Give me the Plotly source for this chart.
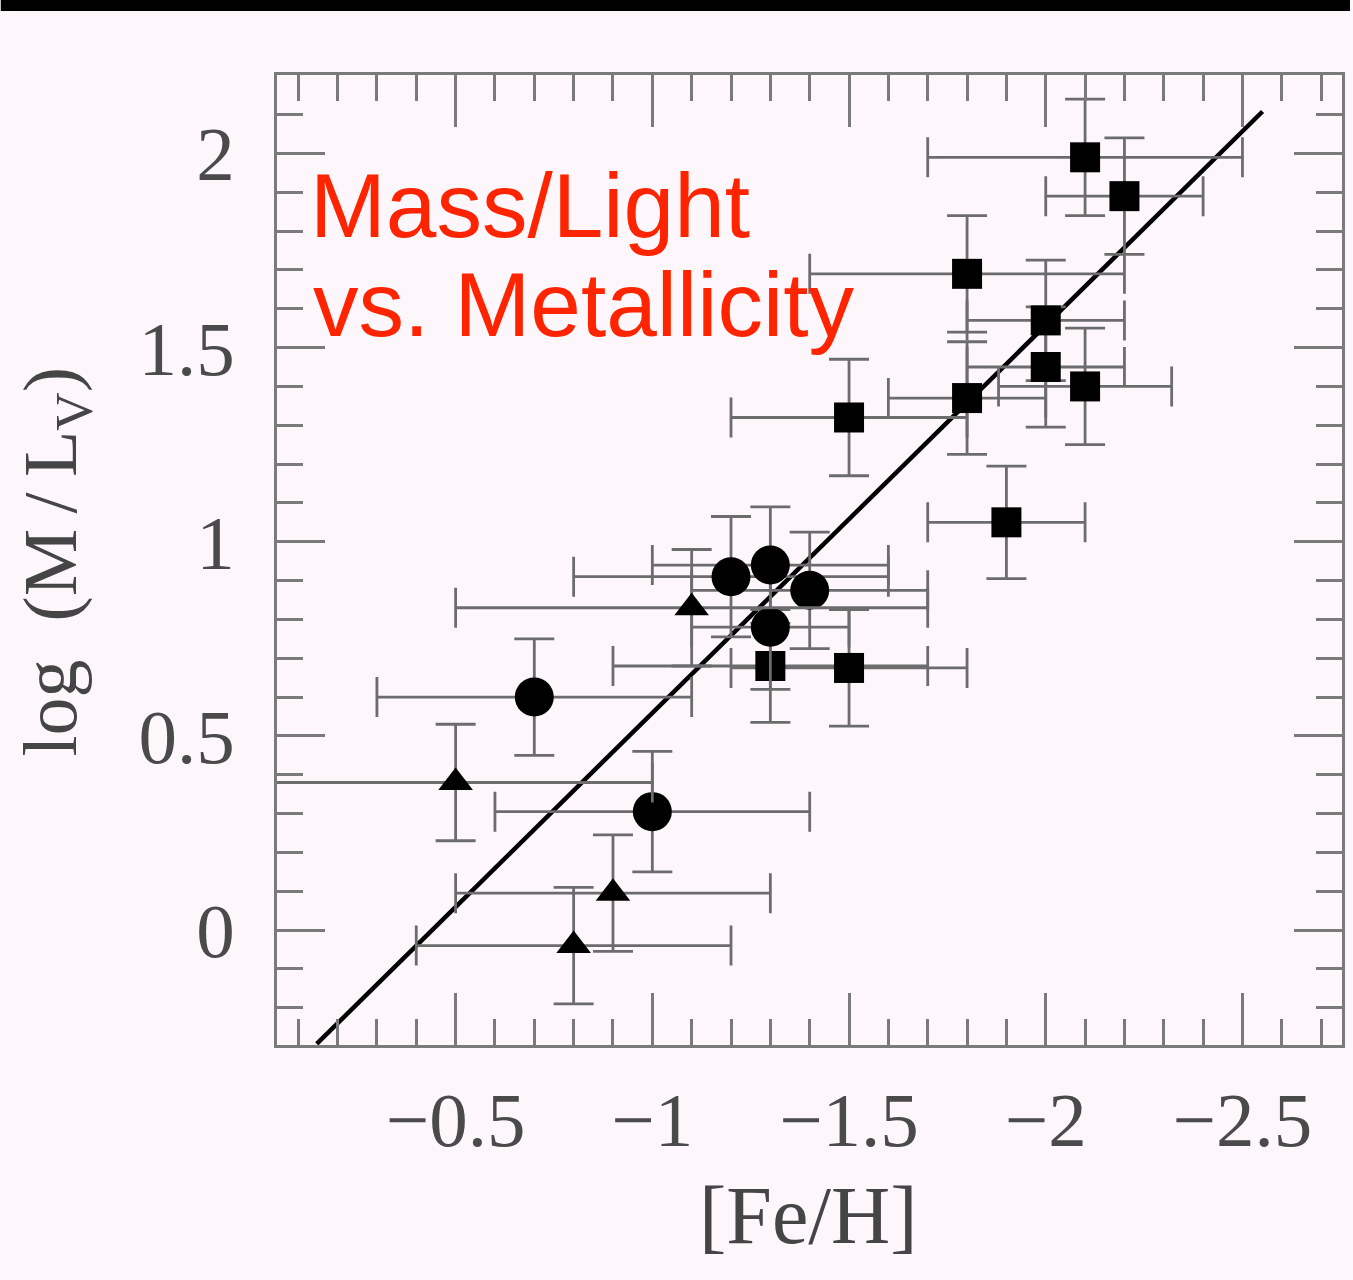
import plotly.graph_objects as go

# ---- data ----
sq_x = [-2.10, -2.20, -1.80, -2.00, -2.00, -2.10, -1.80, -1.50, -1.90, -1.30, -1.50]
sq_y = [1.99, 1.89, 1.69, 1.57, 1.45, 1.40, 1.37, 1.32, 1.05, 0.68, 0.675]
sq_xerr = [0.40, 0.20, 0.40, 0.20, 0.20, 0.22, 0.20, 0.30, 0.20, 0.40, 0.30]
sq_yerr = [0.15, 0.15, 0.15, 0.155, 0.155, 0.15, 0.145, 0.15, 0.145, 0.145, 0.15]

circ_x = [-1.20, -1.30, -1.40, -1.30, -0.70, -1.00]
circ_y = [0.91, 0.94, 0.875, 0.78, 0.60, 0.305]
circ_xerr = [0.40, 0.30, 0.30, 0.20, 0.40, 0.40]
circ_yerr = [0.155, 0.15, 0.15, 0.16, 0.15, 0.155]

tri_x = [-1.10, -0.50, -0.90, -0.80]
tri_y = [0.83, 0.38, 0.095, -0.04]
tri_xerr = [0.60, 0.50, 0.40, 0.40]
tri_yerr = [0.15, 0.15, 0.15, 0.15]

fit_x = [-0.147, -2.551]
fit_y = [-0.293, 2.108]

x_tickvals = [-0.5, -1.0, -1.5, -2.0, -2.5]
x_ticktext = ["\u22120.5", "\u22121", "\u22121.5", "\u22122", "\u22122.5"]
y_tickvals = [0, 0.5, 1.0, 1.5, 2.0]
y_ticktext = ["0", "0.5", "1", "1.5", "2"]

# ---- styles ----
BG = "#fdf7fc"
ERR = "#6c6c6c"
AXC = "#7a7a7a"


def err(arr):
    return dict(type="data", array=arr, visible=True, color=ERR, thickness=2.8, width=20)


fig = go.Figure()
fig.add_trace(go.Scatter(x=fit_x, y=fit_y, mode="lines",
                         line=dict(color="black", width=4.5), showlegend=False, hoverinfo="skip"))
fig.add_trace(go.Scatter(x=sq_x, y=sq_y, mode="markers",
                         marker=dict(symbol="square", size=30, color="black"),
                         error_x=err(sq_xerr), error_y=err(sq_yerr), showlegend=False))
fig.add_trace(go.Scatter(x=circ_x, y=circ_y, mode="markers",
                         marker=dict(symbol="circle", size=39, color="black"),
                         error_x=err(circ_xerr), error_y=err(circ_yerr), showlegend=False))
fig.add_trace(go.Scatter(x=tri_x, y=tri_y, mode="markers",
                         marker=dict(symbol="triangle-up", size=30, color="black"),
                         error_x=err(tri_xerr), error_y=err(tri_yerr), showlegend=False))

tickfont = dict(family="Liberation Serif", size=77, color="#4a4a4a")
common = dict(showline=True, linecolor=AXC, linewidth=2.5, mirror="allticks",
              ticks="inside", tickcolor=AXC, tickwidth=2.5, showgrid=False, zeroline=False,
              tickmode="array", tickfont=tickfont)

fig.update_xaxes(range=[-0.046, -2.753], tickvals=x_tickvals, ticktext=x_ticktext,
                 ticklen=52, ticklabelstandoff=6,
                 minor=dict(dtick=0.1, tick0=0, ticks="inside", ticklen=26,
                            tickwidth=2.5, tickcolor=AXC, showgrid=False),
                 **common)
fig.update_yaxes(range=[-0.296, 2.202], tickvals=y_tickvals, ticktext=y_ticktext,
                 ticklen=48, ticklabelstandoff=24,
                 minor=dict(dtick=0.1, tick0=0, ticks="inside", ticklen=26,
                            tickwidth=2.5, tickcolor=AXC, showgrid=False),
                 **common)

W, H = 1353, 1280
L, R, T, B = 277, 8, 75, 235
pw, ph = W - L - R, H - T - B


def px(xp):
    return (xp - L) / pw


def py(yp):
    return (H - B - yp) / ph


annotations = [
    dict(text="Mass/Light", x=px(308), y=py(206), xref="paper", yref="paper",
         xanchor="left", yanchor="middle", showarrow=False,
         font=dict(family="Liberation Sans", size=91, color="#fe2400")),
    dict(text="vs. Metallicity", x=px(311), y=py(304), xref="paper", yref="paper",
         xanchor="left", yanchor="middle", showarrow=False,
         font=dict(family="Liberation Sans", size=91, color="#fe2400")),
    dict(text="[Fe/H]", x=px(810), y=py(1215), xref="paper", yref="paper",
         xanchor="center", yanchor="middle", showarrow=False,
         font=dict(family="Liberation Serif", size=82, color="#454545")),
    dict(text="log\u00a0\u00a0(M\u2009/\u2009L<sub>V</sub>)", x=px(55), y=py(562),
         xref="paper", yref="paper", textangle=-90,
         xanchor="center", yanchor="middle", showarrow=False,
         font=dict(family="Liberation Serif", size=76, color="#454545")),
]

shapes = [
    dict(type="rect", xref="paper", yref="paper", x0=px(0), x1=px(W), y0=py(11), y1=py(0),
         fillcolor="black", line=dict(width=0), layer="above"),
]

fig.update_layout(width=W, height=H, margin=dict(l=L, r=R, t=T, b=B),
                  paper_bgcolor=BG, plot_bgcolor=BG,
                  annotations=annotations, shapes=shapes, showlegend=False)

fig.write_html("out.html", config={"displayModeBar": False})
